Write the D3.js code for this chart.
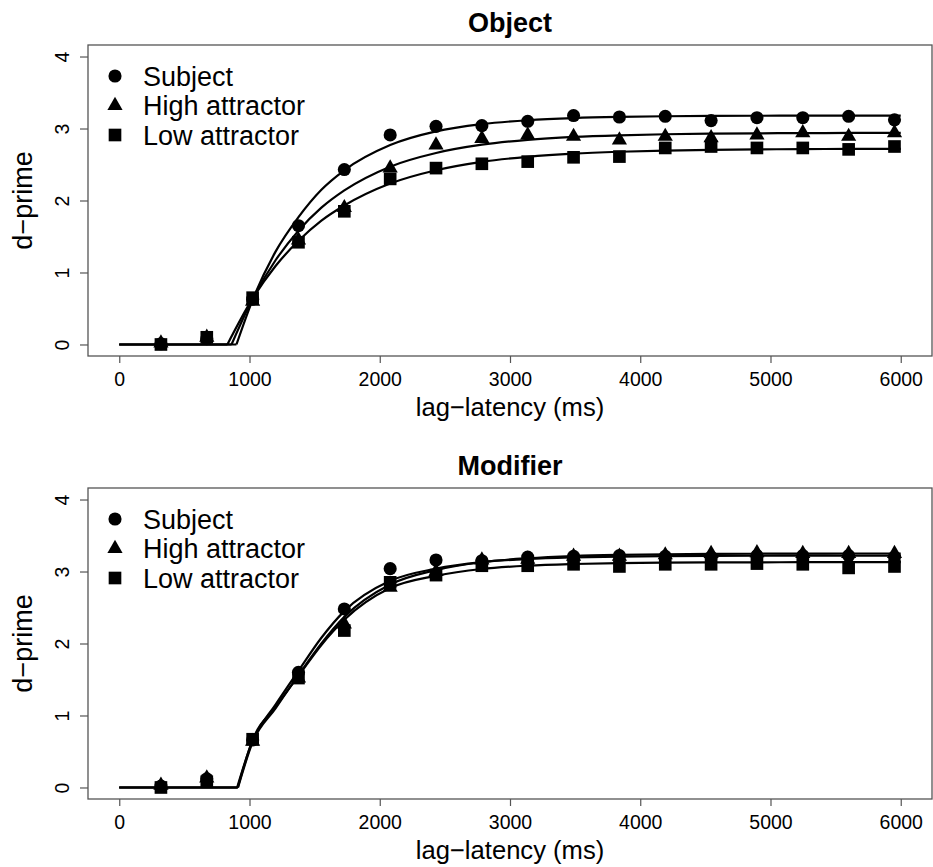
<!DOCTYPE html>
<html>
<head>
<meta charset="utf-8">
<script src="https://cdnjs.cloudflare.com/ajax/libs/d3/7.8.5/d3.min.js"></script>
<style>
  body { margin: 0; background: #fff; }
  text { font-family: "Liberation Sans", Arial, Helvetica, sans-serif; }
</style>
</head>
<body>
<script>
// lag + latency (ms) of each observation
var lagLatency = [320, 672, 1024, 1376, 1728, 2080, 2432, 2784, 3136, 3488, 3840, 4192, 4544, 4896, 5248, 5600, 5952];

var seriesNames = ["Subject", "High attractor", "Low attractor"];
var xTicks = [0, 1000, 2000, 3000, 4000, 5000, 6000];
var yTicks = [0, 1, 2, 3, 4];

// observed d-prime, Object panel
var objSubject = [0.01, 0.08, 0.63, 1.65, 2.43, 2.91, 3.03, 3.04, 3.10, 3.18, 3.16, 3.17, 3.11, 3.15, 3.15, 3.17, 3.12];
var objHigh    = [0.02, 0.10, 0.60, 1.45, 1.90, 2.45, 2.77, 2.86, 2.91, 2.89, 2.84, 2.89, 2.87, 2.91, 2.94, 2.89, 2.94];
var objLow     = [0.00, 0.10, 0.65, 1.42, 1.85, 2.30, 2.45, 2.51, 2.54, 2.60, 2.61, 2.73, 2.75, 2.73, 2.73, 2.71, 2.75];

// observed d-prime, Modifier panel
var modSubject = [0.02, 0.12, 0.66, 1.60, 2.48, 3.04, 3.16, 3.15, 3.20, 3.21, 3.22, 3.21, 3.20, 3.22, 3.22, 3.22, 3.20];
var modHigh    = [0.03, 0.13, 0.64, 1.52, 2.27, 2.78, 3.00, 3.16, 3.17, 3.21, 3.21, 3.23, 3.25, 3.26, 3.25, 3.25, 3.25];
var modLow     = [0.00, 0.08, 0.67, 1.52, 2.18, 2.85, 2.95, 3.08, 3.08, 3.10, 3.07, 3.10, 3.10, 3.11, 3.10, 3.05, 3.07];

// fitted curves: onset (where the curve leaves 0) and values read along fitX
var fitX = [1024, 1200, 1376, 1552, 1728, 2080, 2432, 2784, 3136, 3488, 3840, 4192, 4544, 4896, 5248, 5600, 6000];
var objOnset = [900, 862, 830];
var objSubjectFit = [0.62, 1.29, 1.77, 2.15, 2.42, 2.77, 2.96, 3.06, 3.115, 3.145, 3.161, 3.170, 3.175, 3.177, 3.179, 3.18, 3.18];
var objHighFit    = [0.635, 1.17, 1.58, 1.90, 2.14, 2.47, 2.66, 2.775, 2.843, 2.883, 2.906, 2.920, 2.928, 2.933, 2.936, 2.938, 2.939];
var objLowFit     = [0.64, 1.09, 1.44, 1.72, 1.93, 2.235, 2.42, 2.537, 2.607, 2.651, 2.677, 2.694, 2.704, 2.710, 2.714, 2.716, 2.718];
var modOnset = [905, 912, 910];
var modSubjectFit = [0.65, 1.15, 1.62, 2.08, 2.45, 2.87, 3.04, 3.13, 3.174, 3.196, 3.208, 3.214, 3.217, 3.219, 3.22, 3.22, 3.22];
var modHighFit    = [0.63, 1.10, 1.56, 2.00, 2.37, 2.82, 3.02, 3.129, 3.184, 3.215, 3.231, 3.240, 3.245, 3.247, 3.249, 3.25, 3.25];
var modLowFit     = [0.66, 1.12, 1.55, 1.98, 2.33, 2.77, 2.94, 3.035, 3.081, 3.104, 3.117, 3.123, 3.126, 3.128, 3.129, 3.13, 3.13];

var W = 933, H = 867;
var left = 88, right = 932, boxH = 311;
var shapes = [d3.symbolCircle, d3.symbolTriangle, d3.symbolSquare];
var sizes = [135, 100, 160];

var svg = d3.select("body").append("svg")
    .attr("width", W)
    .attr("height", H);

svg.append("rect").attr("width", W).attr("height", H).attr("fill", "#fff");

var x = d3.scaleLinear().domain([-240, 6240]).range([left, right]);

function panel(top, title, obs, onsets, fits) {
    var bottom = top + boxH;
    var y = d3.scaleLinear().domain([-0.16, 4.16]).range([bottom, top]);
    var g = svg.append("g");

    // fitted curves
    var flat = d3.line().x(function(d) { return x(d[0]) }).y(function(d) { return y(d[1]) });
    var smooth = d3.line().x(function(d) { return x(d[0]) }).y(function(d) { return y(d[1]) })
        .curve(d3.curveMonotoneX);
    fits.forEach(function(f, k) {
        g.append("path")
            .attr("d", flat([[0, 0], [onsets[k], 0]]))
            .attr("fill", "none").attr("stroke", "#000").attr("stroke-width", 2.2);
        var pts = [[onsets[k], 0]].concat(fitX.map(function(t, i) { return [t, f[i]] }));
        g.append("path")
            .attr("d", smooth(pts))
            .attr("fill", "none").attr("stroke", "#000").attr("stroke-width", 2.2);
    });

    // observed points
    obs.forEach(function(vals, k) {
        g.selectAll(null)
            .data(vals)
            .enter()
            .append("path")
            .attr("d", d3.symbol().type(shapes[k]).size(sizes[k]))
            .attr("transform", function(d, i) { return "translate(" + x(lagLatency[i]) + "," + y(d) + ")" })
            .attr("fill", "#000");
    });

    // box
    g.append("rect")
        .attr("x", left).attr("y", top)
        .attr("width", right - left).attr("height", boxH)
        .attr("fill", "none").attr("stroke", "#555").attr("stroke-width", 1.3);

    // axes
    var ax = g.append("g")
        .attr("transform", "translate(0," + bottom + ")")
        .call(d3.axisBottom(x).tickValues(xTicks).tickSize(7).tickFormat(d3.format("d")));
    ax.select(".domain").remove();
    ax.selectAll(".tick line").attr("stroke", "#555").attr("stroke-width", 1.2);
    ax.selectAll(".tick text")
        .attr("y", 30).attr("dy", null)
        .attr("fill", "#000")
        .style("font-size", "19.5px");

    var ay = g.append("g")
        .attr("transform", "translate(" + left + ",0)")
        .call(d3.axisLeft(y).tickValues(yTicks).tickSize(8).tickFormat(d3.format("d")));
    ay.select(".domain").remove();
    ay.selectAll(".tick line").attr("stroke", "#555").attr("stroke-width", 1.2);
    ay.selectAll(".tick text")
        .attr("x", null).attr("dy", null)
        .attr("text-anchor", "middle")
        .attr("transform", "translate(-19,0) rotate(-90)")
        .attr("fill", "#000")
        .style("font-size", "19.5px");

    // labels
    g.append("text")
        .attr("x", (left + right) / 2).attr("y", top - 13)
        .attr("text-anchor", "middle")
        .style("font-size", "27px").style("font-weight", "bold")
        .text(title);
    g.append("text")
        .attr("x", (left + right) / 2).attr("y", bottom + 60)
        .attr("text-anchor", "middle")
        .style("font-size", "25.6px")
        .text("lag\u2212latency (ms)");
    g.append("text")
        .attr("transform", "translate(32," + (top + bottom) / 2 + ") rotate(-90)")
        .attr("text-anchor", "middle")
        .style("font-size", "27px")
        .text("d\u2212prime");

    // legend
    seriesNames.forEach(function(name, k) {
        var ly = top + 31 + k * 29.5;
        g.append("path")
            .attr("d", d3.symbol().type(shapes[k]).size(sizes[k]))
            .attr("transform", "translate(115," + ly + ")")
            .attr("fill", "#000");
        g.append("text")
            .attr("x", 143).attr("y", ly).attr("dy", "0.36em")
            .style("font-size", "27px")
            .text(name);
    });
}

panel(45, "Object", [objSubject, objHigh, objLow], objOnset, [objSubjectFit, objHighFit, objLowFit]);
panel(488, "Modifier", [modSubject, modHigh, modLow], modOnset, [modSubjectFit, modHighFit, modLowFit]);
</script>
</body>
</html>
